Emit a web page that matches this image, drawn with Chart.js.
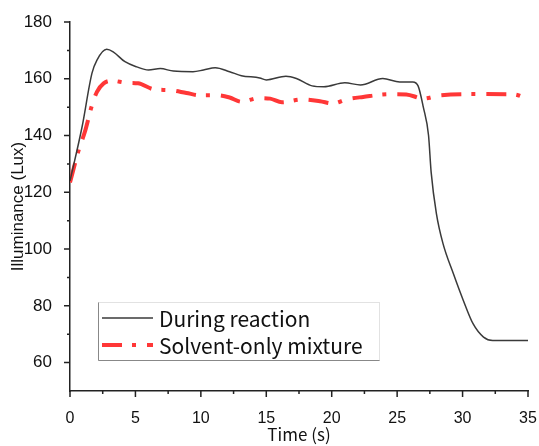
<!DOCTYPE html>
<html>
<head>
<meta charset="utf-8">
<script src="https://cdn.jsdelivr.net/npm/chart.js@4"></script>
<style>
  html, body { margin: 0; padding: 0; background: #fff; }
  #wrap { width: 539px; height: 446px; }
</style>
</head>
<body>
<div id="wrap"><canvas id="myChart" width="539" height="446"></canvas></div>
<script>
// values
const reactionTime = [0, 0.92, 1.68, 2.06, 2.8, 3.3, 4.2, 5.1, 6.0, 6.9, 7.9, 9.4, 10.2, 11.1, 12.2, 13.1, 14.5, 15.0, 16.5, 17.3, 18.5, 19.4, 21.0, 22.2, 23.9, 25.2, 26.2, 26.6, 27.0, 27.4, 27.6, 28.0, 28.5, 29.3, 30.05, 30.8, 31.6, 32.3, 35];
const reactionLux = [124, 143, 162, 166.6, 170.4, 169.5, 166, 164.2, 163.1, 163.6, 162.7, 162.5, 163.1, 163.9, 162.5, 161.1, 160.3, 159.6, 160.9, 160.1, 157.5, 157.2, 158.6, 157.8, 160.1, 158.9, 158.9, 157.5, 150, 140, 127, 112.5, 102, 91.3, 82, 73.7, 69, 67.8, 67.8];

const solventTime = [0, 0.66, 1.17, 1.68, 2.06, 2.57, 3.2, 4.3, 5.2, 6.4, 7.6, 8.9, 9.9, 11.2, 12.2, 13.1, 14.4, 15.3, 16.2, 17.7, 19.1, 20.1, 21.1, 22.4, 24.4, 25.7, 27.0, 28.3, 31.1, 33.9, 35];
const solventLux = [123.5, 134.8, 141.8, 150.7, 155.4, 158.4, 159.3, 158.6, 158.4, 156.3, 156.0, 155.0, 154.2, 154.2, 153.4, 151.9, 153.2, 153.0, 151.7, 152.7, 152.1, 151.3, 152.7, 153.6, 154.6, 154.5, 153.0, 154.2, 154.6, 154.5, 152.8];

const seriesNames = ['During reaction', 'Solvent-only mixture'];
const xTickValues = [0, 5, 10, 15, 20, 25, 30, 35];
const yTickValues = [60, 80, 100, 120, 140, 160, 180];

const toPoints = (xs, ys) => xs.map((x, i) => ({ x: x, y: ys[i] }));

const axisColor = '#222';
const redDash = [20, 10, 4, 11];

// draws outward major/minor tick marks and the boxed legend
const decorPlugin = {
    id: 'decor',
    afterDraw(chart) {
        const c = chart.ctx;
        const xs = chart.scales.x, ys = chart.scales.y;
        const area = chart.chartArea;
        c.save();
        c.strokeStyle = axisColor;
        c.lineWidth = 1.5;
        c.beginPath();
        for (let v = 0; v <= 35; v += 2.5) {
            const px = xs.getPixelForValue(v);
            const len = (v % 5 === 0) ? 6 : 3;
            c.moveTo(px, area.bottom);
            c.lineTo(px, area.bottom + len);
        }
        for (let v = 60; v <= 180; v += 10) {
            const py = ys.getPixelForValue(v);
            const len = (v % 20 === 0) ? 6 : 3;
            c.moveTo(area.left, py);
            c.lineTo(area.left - len, py);
        }
        c.stroke();

        // legend box
        const bx = 98, by = 302, bw = 281, bh = 58;
        c.fillStyle = '#fff';
        c.fillRect(bx, by, bw, bh);
        c.lineWidth = 1;
        c.strokeStyle = '#e2e2e2';
        c.strokeRect(bx + 0.5, by + 0.5, bw, bh);
        c.strokeStyle = '#888';
        c.beginPath();
        c.moveTo(bx + 0.5, by + 0.5);
        c.lineTo(bx + 0.5, by + bh + 0.5);
        c.lineTo(bx + bw + 0.5, by + bh + 0.5);
        c.stroke();

        const ds = chart.data.datasets;
        const rows = [318, 345];
        c.font = '21px "Noto Sans CJK JP"';
        c.textBaseline = 'middle';
        c.textAlign = 'left';
        ds.forEach((d, i) => {
            c.strokeStyle = d.borderColor;
            c.lineWidth = d.borderWidth;
            c.setLineDash(d.borderDash || []);
            c.beginPath();
            c.moveTo(102, rows[i]);
            c.lineTo(153, rows[i]);
            c.stroke();
            c.setLineDash([]);
            c.fillStyle = '#111';
            c.fillText(d.label, 159, rows[i] + 1);
        });
        c.restore();
    }
};

const ctx = document.getElementById('myChart').getContext('2d');

const myChart = new Chart(ctx, {
    type: 'line',
    data: {
        datasets: [{
            label: seriesNames[0],
            data: toPoints(reactionTime, reactionLux),
            borderColor: '#3a3a3a',
            borderWidth: 1.5,
            pointRadius: 0,
            cubicInterpolationMode: 'monotone',
            fill: false
        }, {
            label: seriesNames[1],
            data: toPoints(solventTime, solventLux),
            borderColor: 'rgb(255,55,55)',
            borderWidth: 4,
            borderDash: redDash,
            pointRadius: 0,
            cubicInterpolationMode: 'monotone',
            fill: false
        }]
    },
    options: {
        responsive: false,
        animation: false,
        events: [],
        layout: { padding: { top: 22, right: 11, left: 0, bottom: 0 } },
        plugins: {
            legend: { display: false },
            tooltip: { enabled: false }
        },
        scales: {
            x: {
                type: 'linear',
                min: 0,
                max: 35,
                afterBuildTicks: (s) => { s.ticks = xTickValues.map(v => ({ value: v })); },
                afterFit: (s) => {
                    s.height = 55;
                    s.paddingRight = 0;
                    s.paddingLeft = 0;
                },
                grid: { display: false },
                border: { display: true, color: axisColor, width: 1.5 },
                ticks: {
                    padding: 10,
                    color: '#111',
                    font: { family: 'Liberation Sans', size: 16 }
                },
                title: {
                    display: true,
                    text: 'Time (s)',
                    color: '#111',
                    font: { family: 'Noto Sans CJK JP', size: 17 },
                    padding: { top: 0, bottom: 1 }
                }
            },
            y: {
                min: 50,
                max: 180,
                afterBuildTicks: (s) => { s.ticks = yTickValues.map(v => ({ value: v })); },
                afterFit: (s) => {
                    s.width = 70;
                    s.paddingTop = 0;
                    s.paddingBottom = 0;
                },
                grid: { display: false },
                border: { display: true, color: axisColor, width: 1.5 },
                ticks: {
                    padding: 10,
                    color: '#111',
                    font: { family: 'Liberation Sans', size: 17 }
                },
                title: {
                    display: true,
                    text: 'Illuminance (Lux)',
                    color: '#111',
                    font: { family: 'Liberation Sans', size: 17 },
                    padding: { top: 8, bottom: 0 }
                }
            }
        }
    },
    plugins: [decorPlugin]
});
</script>
</body>
</html>
